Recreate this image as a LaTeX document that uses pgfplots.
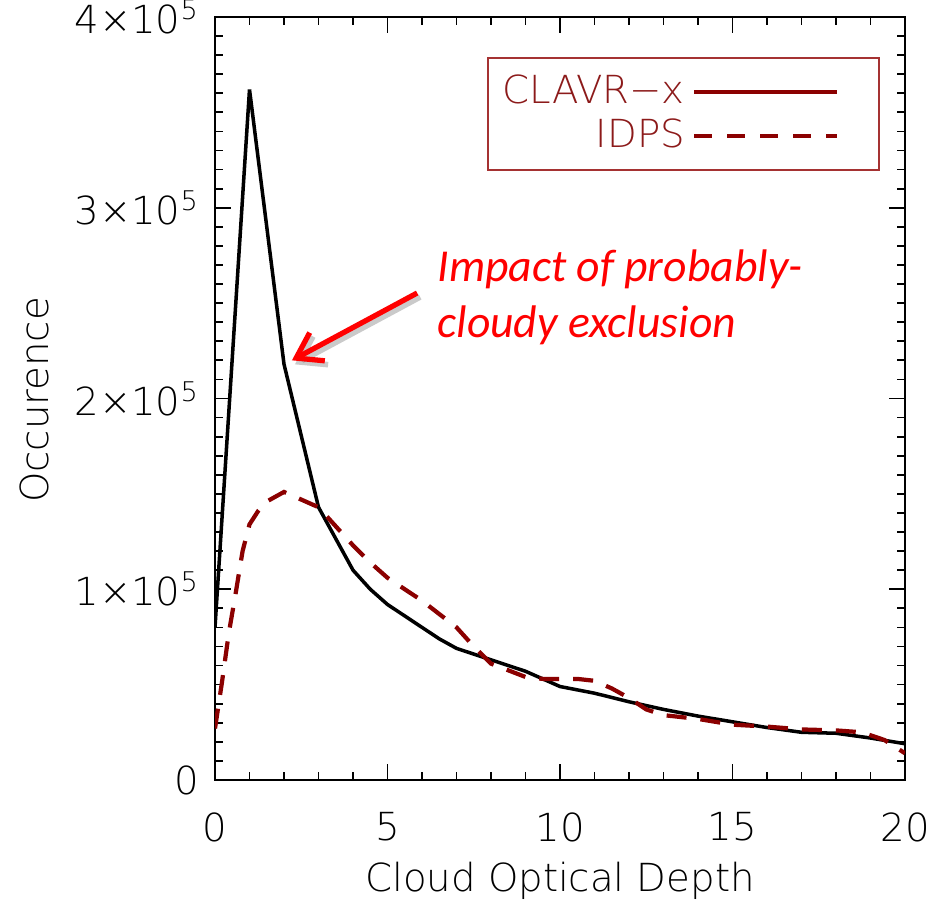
\documentclass[border=0pt]{standalone}
\usepackage{fontspec}
\IfFontExistsTF{DejaVu Sans ExtraLight}{\setmainfont{DejaVu Sans ExtraLight}}{\setmainfont{DejaVu Sans}}
\newfontfamily\calibri{Carlito}
\usepackage{pgfplots}
\pgfplotsset{compat=1.18}
\usetikzlibrary{arrows.meta}
\definecolor{idps}{RGB}{139,0,0}
\definecolor{legtext}{RGB}{140,26,26}
\definecolor{legbox}{RGB}{165,50,50}
\begin{document}
\begin{tikzpicture}
\begin{axis}[name=ax, scale only axis, width=69mm, height=76.3mm,
  xmin=0, xmax=20, ymin=0, ymax=400000,
  xtick={0,5,10,15,20}, xticklabels={0,5,10,15,20},
  minor x tick num=4,
  ytick={0,100000,200000,300000,400000},
  yticklabels={0,1×10\textsuperscript{5},2×10\textsuperscript{5},3×10\textsuperscript{5},4×10\textsuperscript{5}},
  minor y tick num=9,
  scaled y ticks=false,
  tick align=inside,
  major tick length=1.6mm, minor tick length=0.8mm,
  every tick/.style={black, line width=0.5pt},
  axis line style={line width=0.6pt},
  font=\fontsize{11}{13}\selectfont,
  xticklabel style={yshift=-2mm},
  yticklabel style={xshift=-0.3mm},
  xlabel={Cloud Optical Depth},
  ylabel={Occurence},
  xlabel style={at={(axis description cs:0.5,0)}, anchor=base, yshift=-11.2mm},
  ylabel style={at={(axis description cs:-0.261,0.498)}, anchor=center},
  legend cell align=right,
  legend plot pos=right,
  legend image code/.code={\draw[#1] (0mm,0mm) -- (14.3mm,0mm); \path (17.5mm,0mm);},
  legend style={at={(rel axis cs:0.964,0.948)}, anchor=north east, draw=legbox,
    line width=0.6pt, text=legtext, font=\fontsize{11}{13}\selectfont,
    inner xsep=0.8mm, inner ysep=1mm, row sep=-1pt},
]
\addlegendimage{idps, line width=1.2pt}
\addlegendentry{CLAVR−x}
\addlegendimage{idps, line width=1.2pt, dash pattern=on 1.8mm off 1.5mm}
\addlegendentry{IDPS}

\addplot[forget plot, black, line width=1pt] coordinates {
(0,80000) (1,362000) (2,218000) (3,143000) (4,110000) (4.5,100000)
(5,92000) (5.5,86000) (6,80000) (6.5,74000) (7,69000) (7.5,66000)
(8,63000) (8.5,60000) (9,57000) (9.5,53000) (10,49000) (11,45500)
(12,41000) (13,37000) (14,33500) (15,30500) (16,27500) (17,25000)
(18,24500) (19,22000) (20,19000)};

\addplot[forget plot, idps, line width=1.2pt, dash pattern=on 2mm off 1.4mm] coordinates {
(0,27000) (0.2,51000) (0.4,77000) (0.6,98000) (0.8,120000) (1,134000)
(1.25,141000) (1.5,146000) (2,151000) (2.5,147000) (3,143000) (3.5,133000) (4,123000)
(4.5,114000) (5,106000) (5.5,100000) (6,94000) (6.5,87000) (7,80000)
(7.5,70000) (8,61000) (8.5,57500) (9,54000) (9.5,53000) (10,53000)
(10.5,53000) (11,52000) (11.5,48000) (12,43000) (12.5,37000) (13,34000)
(13.5,33000) (14,32000) (15,29000) (16,28000) (17,26500) (18,26000)
(18.75,25000) (19.4,21000) (20,14000)};

\draw[black!35, opacity=0.6, line width=1.6pt, -{Straight Barb[length=2.4mm,width=3.2mm]}]
  ([xshift=0.3mm,yshift=-0.4mm]axis cs:5.86,255300) -- ([xshift=0.3mm,yshift=-0.4mm]axis cs:2.23,220000);
\draw[red, line width=1.5pt, -{Straight Barb[length=2.4mm,width=3.2mm]}]
  (axis cs:5.86,255300) -- (axis cs:2.23,220000);
\node[anchor=base west, text=red, inner sep=0pt, font=\calibri\itshape\fontsize{13}{16}\selectfont]
  at (axis cs:6.43,261100) {Impact of probably-};
\node[anchor=base west, text=red, inner sep=0pt, font=\calibri\itshape\fontsize{13}{16}\selectfont]
  at (axis cs:6.43,232200) {cloudy exclusion};
\end{axis}
\pgfresetboundingbox
\path[use as bounding box] ([xshift=-21.5mm,yshift=-12.3mm]ax.south west) rectangle ([xshift=2.6mm,yshift=1.7mm]ax.north east);
\end{tikzpicture}
\end{document}
